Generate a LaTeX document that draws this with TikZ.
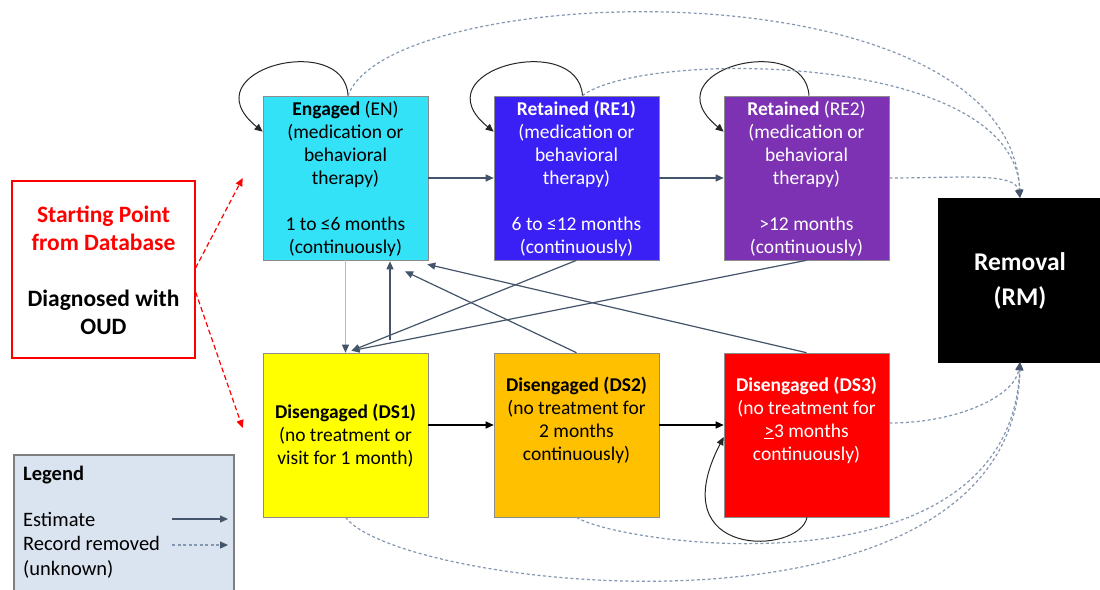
\documentclass[tikz,border=0pt]{standalone}
\usepackage{fontspec}
\setmainfont{Carlito}
\usetikzlibrary{arrows.meta,calc}
\definecolor{enC}{RGB}{51,226,247}
\definecolor{reOneC}{RGB}{59,32,245}
\definecolor{reTwoC}{RGB}{124,50,178}
\definecolor{dsOneC}{RGB}{255,255,0}
\definecolor{dsTwoC}{RGB}{255,192,0}
\definecolor{dsThreeC}{RGB}{255,0,0}
\definecolor{slate}{RGB}{68,84,106}
\definecolor{slateL}{RGB}{180,188,200}
\definecolor{dashC}{RGB}{132,151,176}
\definecolor{boxB}{RGB}{140,140,140}
\definecolor{legF}{RGB}{218,227,240}
\definecolor{legB}{RGB}{127,127,127}
\tikzset{
  statebox/.style={draw=boxB, line width=0.6pt, minimum width=165pt, minimum height=164pt, inner sep=0pt},
  boxtext/.style={align=center, inner sep=0pt, font=\fontsize{19.5}{23}\selectfont},
  tipx/.style={-{Triangle[length=8pt,width=7pt]}},
  estarr/.style={draw=slate, line width=1.2pt, -{Triangle[length=8pt,width=7pt]}},
  estlight/.style={draw=slateL, line width=1.2pt, -{Triangle[length=8pt,width=7pt,color=slate]}},
  blkarr/.style={draw=black, line width=1.3pt, -{Triangle[length=8pt,width=7pt]}},
  selfloop/.style={draw=black!85, line width=1pt, -{Triangle[length=8pt,width=7pt]}},
  dashrm/.style={draw=dashC, line width=1.2pt, dash pattern=on 3pt off 2.5pt, -{Triangle[length=8pt,width=7pt,color=slate]}},
  redarr/.style={draw=red, line width=1.2pt, dash pattern=on 5pt off 3pt, -{Triangle[length=8pt,width=7pt]}},
  legtext/.style={anchor=base west, inner sep=0pt, font=\fontsize{20.5}{24}\selectfont}
}
\begin{document}
\begin{tikzpicture}[x=1pt,y=-1pt]
\useasboundingbox (0,0) rectangle (1100,589);
\fill[white] (0,0) rectangle (1100,589);

% state boxes
\node[statebox, fill=enC] (EN) at (345.5,178) {};
\node[statebox, fill=reOneC] (RE1) at (576.5,178) {};
\node[statebox, fill=reTwoC] (RE2) at (806.5,178) {};
\node[statebox, fill=dsOneC] (DS1) at (345.5,435) {};
\node[statebox, fill=dsTwoC] (DS2) at (576.5,435) {};
\node[statebox, fill=dsThreeC] (DS3) at (806.5,435) {};
\node[draw=black, fill=black, minimum width=164pt, minimum height=164pt, inner sep=0pt] (RM) at (1020,280) {};
\node[draw=red, line width=1.2pt, fill=white, minimum width=183pt, minimum height=177pt, inner sep=0pt] (ST) at (103.5,269.5) {};
\node[draw=legB, fill=legF, line width=1.5pt, minimum width=220pt, minimum height=160pt, inner sep=0pt, anchor=north west] (LG) at (13,454) {};

% texts
\node[boxtext] (ENt) at (345.5,179) {\textbf{Engaged} (EN)\\(medication or\\behavioral\\therapy)\\[23pt]1 to ≤6 months\\(continuously)};
\node[boxtext, text=white] (RE1t) at (576.5,179) {\textbf{Retained (RE1)}\\(medication or\\behavioral\\therapy)\\[23pt]6 to ≤12 months\\(continuously)};
\node[boxtext, text=white] (RE2t) at (806.5,179) {\textbf{Retained} (RE2)\\(medication or\\behavioral\\therapy)\\[23pt]>12 months\\(continuously)};
\node[boxtext] (DS1t) at (345.5,436) {\textbf{Disengaged (DS1)}\\(no treatment or\\visit for 1 month)};
\node[boxtext] (DS2t) at (576.5,420) {\textbf{Disengaged (DS2)}\\(no treatment for\\2 months\\continuously)};
\node[boxtext, text=white] (DS3t) at (806.5,420) {\textbf{Disengaged (DS3)}\\(no treatment for\\\underline{>}3 months\\continuously)};
\node[align=center, inner sep=0pt, text=white, font=\bfseries\fontsize{25.5}{35}\selectfont] (RMt) at (1020,281) {Removal\\(RM)};
\node[align=center, inner sep=0pt, font=\bfseries\fontsize{23.5}{28}\selectfont] (STt) at (103.5,270) {\textcolor{red}{Starting Point}\\\textcolor{red}{from Database}\\[28pt]Diagnosed with\\OUD};

\node[legtext, font=\bfseries\fontsize{20.5}{24}\selectfont] (LGh) at (23,480) {Legend};
\node[legtext] (LG1) at (23,526) {Estimate};
\node[legtext] (LG2) at (23,550) {Record removed};
\node[legtext] (LG3) at (23,575) {(unknown)};

% self loops
\draw[selfloop] ([xshift=2.5pt]EN.north) .. controls (345,30) and (187,70) .. ([yshift=-36pt]EN.north west);
\draw[selfloop] ([xshift=6pt]RE1.north) .. controls (578,30) and (418,70) .. ([yshift=-36pt]RE1.north west);
\draw[selfloop] ([xshift=2.5pt]RE2.north) .. controls (805,30) and (648,70) .. ([yshift=-36pt]RE2.north west);
\draw[selfloop] ([xshift=0.5pt]DS3.south) .. controls (800,555) and (660,560) .. ([yshift=-2pt]DS3.west);

% horizontal transitions
\draw[estarr] (EN) -- (RE1);
\draw[estarr] (RE1) -- (RE2);
\draw[blkarr] ([yshift=10pt]DS1.east) -- ([yshift=10pt]DS2.west);
\draw[blkarr] ([yshift=10pt]DS2.east) -- ([yshift=10pt]DS3.west);

% cross transitions
\draw[estlight] (EN.south) -- (DS1.north);
\draw[estarr] ([xshift=44.5pt,yshift=13pt]DS1.north) -- ([xshift=44.5pt,yshift=-1pt]EN.south);
\draw[estarr] (DS2.north) -- ([xshift=59.5pt,yshift=-11pt]EN.south);
\draw[estarr] (DS3.north) -- ([xshift=-1pt,yshift=-4pt]EN.south east);
\draw[estarr] (RE1.south) -- ([xshift=6pt,yshift=2pt]DS1.north);
\draw[estarr] (RE2.south) -- ([xshift=6pt,yshift=2pt]DS1.north);

% removal (dashed)
\draw[dashrm] ([xshift=2.5pt]EN.north) .. controls (390,-20) and (1010,-40) .. (RM.north);
\draw[dashrm] ([xshift=6pt]RE1.north) .. controls (640,50) and (1015,50) .. (RM.north);
\draw[dashrm] (RE2.east) .. controls (960,178) and (1015,172) .. (RM.north);
\draw[dashrm] ([yshift=12pt]DS3.east) .. controls (960,423) and (1015,395) .. (RM.south);
\draw[dashrm] (DS2.south) .. controls (620,545) and (1010,600) .. (RM.south);
\draw[dashrm] (DS1.south) .. controls (400,590) and (1015,660) .. (RM.south);

% starting point arrows
\coordinate (tipEN) at ([xshift=-20pt]EN.west);
\coordinate (tipDS) at ([xshift=-20pt,yshift=7pt]DS1.west);
\draw[redarr] ([yshift=1.5pt]ST.east) -- (tipEN);
\draw[redarr] ([yshift=-22.5pt]ST.east) -- (tipDS);

% legend arrows
\coordinate (la1) at (172,519);
\coordinate (lb1) at (228,519);
\coordinate (la2) at (172,545);
\coordinate (lb2) at (228,545);
\draw[estarr] (la1) -- (lb1);
\draw[dashrm] (la2) -- (lb2);
\end{tikzpicture}
\end{document}
